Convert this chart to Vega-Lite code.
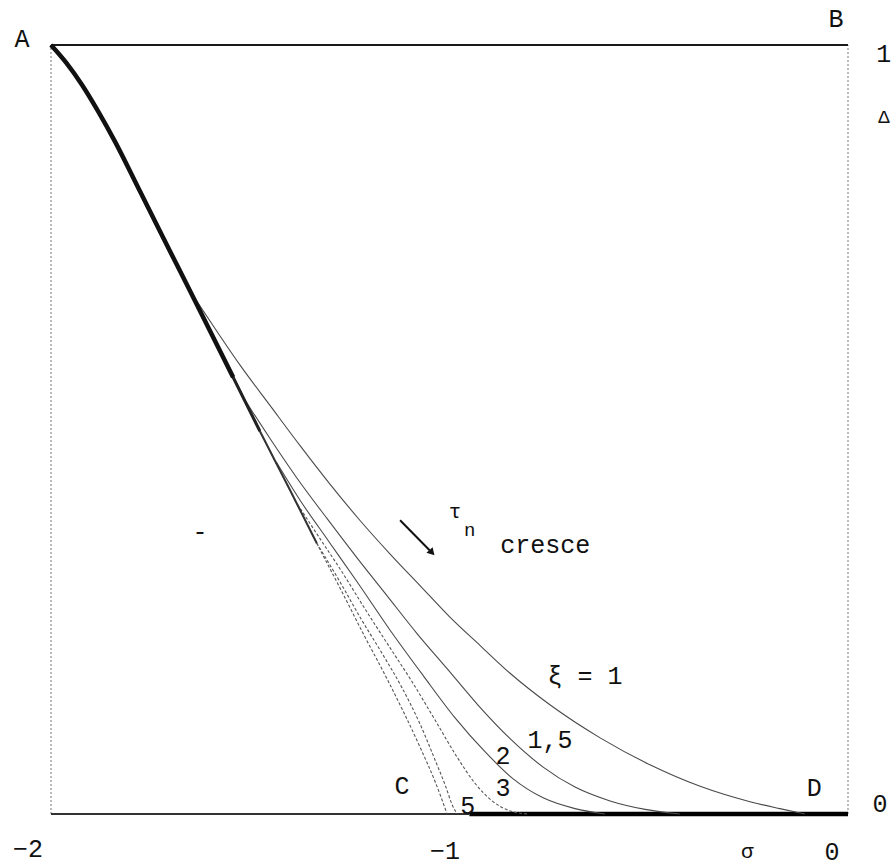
{
  "$schema": "https://vega.github.io/schema/vega-lite/v6.json",
  "width": 797,
  "height": 769,
  "autosize": "none",
  "padding": {"left": 51, "top": 45, "right": 48, "bottom": 54},
  "background": "white",
  "config": {"view": {"stroke": null}, "text": {"font": "Liberation Mono", "color": "#111"}},
  "datasets": {
    "curvas": [
      {"curva": "limite", "sigma": -2.000, "delta": 1.000},
      {"curva": "limite", "sigma": -1.962, "delta": 0.977},
      {"curva": "limite", "sigma": -1.922, "delta": 0.948},
      {"curva": "limite", "sigma": -1.882, "delta": 0.914},
      {"curva": "limite", "sigma": -1.839, "delta": 0.874},
      {"curva": "limite", "sigma": -1.777, "delta": 0.810},
      {"curva": "limite", "sigma": -1.719, "delta": 0.750},
      {"curva": "limite", "sigma": -1.651, "delta": 0.680},
      {"curva": "limite", "sigma": -1.543, "delta": 0.568},
      {"curva": "limite", "sigma": -1.476, "delta": 0.498},
      {"curva": "limite", "sigma": -1.400, "delta": 0.421},
      {"curva": "limite", "sigma": -1.333, "delta": 0.352},
      {"curva": "limite", "sigma": -1.267, "delta": 0.286},
      {"curva": "limite", "sigma": -1.217, "delta": 0.235},
      {"curva": "limite", "sigma": -1.154, "delta": 0.173},
      {"curva": "limite", "sigma": -1.074, "delta": 0.087},
      {"curva": "limite", "sigma": -1.036, "delta": 0.042},
      {"curva": "limite", "sigma": -1.006, "delta": 0.000},

      {"curva": "xi1", "sigma": -1.651, "delta": 0.680},
      {"curva": "xi1", "sigma": -1.588, "delta": 0.631},
      {"curva": "xi1", "sigma": -1.526, "delta": 0.584},
      {"curva": "xi1", "sigma": -1.450, "delta": 0.531},
      {"curva": "xi1", "sigma": -1.375, "delta": 0.479},
      {"curva": "xi1", "sigma": -1.300, "delta": 0.429},
      {"curva": "xi1", "sigma": -1.225, "delta": 0.382},
      {"curva": "xi1", "sigma": -1.149, "delta": 0.338},
      {"curva": "xi1", "sigma": -1.074, "delta": 0.297},
      {"curva": "xi1", "sigma": -0.999, "delta": 0.256},
      {"curva": "xi1", "sigma": -0.923, "delta": 0.219},
      {"curva": "xi1", "sigma": -0.848, "delta": 0.183},
      {"curva": "xi1", "sigma": -0.748, "delta": 0.142},
      {"curva": "xi1", "sigma": -0.622, "delta": 0.099},
      {"curva": "xi1", "sigma": -0.497, "delta": 0.064},
      {"curva": "xi1", "sigma": -0.371, "delta": 0.036},
      {"curva": "xi1", "sigma": -0.246, "delta": 0.016},
      {"curva": "xi1", "sigma": -0.171, "delta": 0.007},
      {"curva": "xi1", "sigma": -0.108, "delta": 0.000},

      {"curva": "xi1.5", "sigma": -1.513, "delta": 0.538},
      {"curva": "xi1.5", "sigma": -1.450, "delta": 0.488},
      {"curva": "xi1.5", "sigma": -1.383, "delta": 0.437},
      {"curva": "xi1.5", "sigma": -1.307, "delta": 0.384},
      {"curva": "xi1.5", "sigma": -1.232, "delta": 0.333},
      {"curva": "xi1.5", "sigma": -1.157, "delta": 0.284},
      {"curva": "xi1.5", "sigma": -1.082, "delta": 0.235},
      {"curva": "xi1.5", "sigma": -1.006, "delta": 0.189},
      {"curva": "xi1.5", "sigma": -0.929, "delta": 0.142},
      {"curva": "xi1.5", "sigma": -0.848, "delta": 0.098},
      {"curva": "xi1.5", "sigma": -0.765, "delta": 0.061},
      {"curva": "xi1.5", "sigma": -0.685, "delta": 0.035},
      {"curva": "xi1.5", "sigma": -0.597, "delta": 0.017},
      {"curva": "xi1.5", "sigma": -0.509, "delta": 0.006},
      {"curva": "xi1.5", "sigma": -0.422, "delta": 0.000},

      {"curva": "xi2", "sigma": -1.435, "delta": 0.458},
      {"curva": "xi2", "sigma": -1.375, "delta": 0.408},
      {"curva": "xi2", "sigma": -1.305, "delta": 0.356},
      {"curva": "xi2", "sigma": -1.232, "delta": 0.302},
      {"curva": "xi2", "sigma": -1.149, "delta": 0.239},
      {"curva": "xi2", "sigma": -1.066, "delta": 0.180},
      {"curva": "xi2", "sigma": -0.986, "delta": 0.125},
      {"curva": "xi2", "sigma": -0.911, "delta": 0.081},
      {"curva": "xi2", "sigma": -0.841, "delta": 0.046},
      {"curva": "xi2", "sigma": -0.765, "delta": 0.021},
      {"curva": "xi2", "sigma": -0.685, "delta": 0.007},
      {"curva": "xi2", "sigma": -0.610, "delta": 0.000},

      {"curva": "xi3", "sigma": -1.388, "delta": 0.408},
      {"curva": "xi3", "sigma": -1.330, "delta": 0.362},
      {"curva": "xi3", "sigma": -1.270, "delta": 0.315},
      {"curva": "xi3", "sigma": -1.210, "delta": 0.265},
      {"curva": "xi3", "sigma": -1.149, "delta": 0.216},
      {"curva": "xi3", "sigma": -1.094, "delta": 0.172},
      {"curva": "xi3", "sigma": -1.036, "delta": 0.122},
      {"curva": "xi3", "sigma": -0.981, "delta": 0.074},
      {"curva": "xi3", "sigma": -0.936, "delta": 0.040},
      {"curva": "xi3", "sigma": -0.893, "delta": 0.017},
      {"curva": "xi3", "sigma": -0.848, "delta": 0.004},
      {"curva": "xi3", "sigma": -0.803, "delta": 0.000},

      {"curva": "xi5", "sigma": -1.333, "delta": 0.352},
      {"curva": "xi5", "sigma": -1.275, "delta": 0.302},
      {"curva": "xi5", "sigma": -1.220, "delta": 0.252},
      {"curva": "xi5", "sigma": -1.167, "delta": 0.207},
      {"curva": "xi5", "sigma": -1.119, "delta": 0.164},
      {"curva": "xi5", "sigma": -1.074, "delta": 0.117},
      {"curva": "xi5", "sigma": -1.036, "delta": 0.070},
      {"curva": "xi5", "sigma": -1.009, "delta": 0.035},
      {"curva": "xi5", "sigma": -0.994, "delta": 0.013},
      {"curva": "xi5", "sigma": -0.981, "delta": 0.000}
    ],
    "rotulos": [
      {"tipo": "grande", "texto": "A", "sigma": -2.073, "delta": 1.008},
      {"tipo": "grande", "texto": "B", "sigma": -0.030, "delta": 1.034},
      {"tipo": "grande", "texto": "1", "sigma": 0.090, "delta": 0.988},
      {"tipo": "grande", "texto": "0", "sigma": 0.080, "delta": 0.013},
      {"tipo": "grande", "texto": "−2", "sigma": -2.058, "delta": -0.046},
      {"tipo": "grande", "texto": "−1", "sigma": -1.011, "delta": -0.048},
      {"tipo": "grande", "texto": "0", "sigma": -0.040, "delta": -0.049},
      {"tipo": "grande", "texto": "C", "sigma": -1.119, "delta": 0.036},
      {"tipo": "grande", "texto": "D", "sigma": -0.085, "delta": 0.034},
      {"tipo": "grande", "texto": "5", "sigma": -0.954, "delta": 0.010},
      {"tipo": "grande", "texto": "3", "sigma": -0.866, "delta": 0.034},
      {"tipo": "grande", "texto": "2", "sigma": -0.866, "delta": 0.075},
      {"tipo": "grande", "texto": "1,5", "sigma": -0.748, "delta": 0.096},
      {"tipo": "grande", "texto": "ξ = 1", "sigma": -0.660, "delta": 0.180},
      {"tipo": "grande", "texto": "cresce", "sigma": -0.760, "delta": 0.350},
      {"tipo": "grande", "texto": "-", "sigma": -1.626, "delta": 0.367},
      {"tipo": "medio", "texto": "σ", "sigma": -0.253, "delta": -0.050},
      {"tipo": "medio", "texto": "τ", "sigma": -0.986, "delta": 0.393},
      {"tipo": "pequeno", "texto": "Δ", "sigma": 0.090, "delta": 0.906},
      {"tipo": "pequeno", "texto": "n", "sigma": -0.949, "delta": 0.369}
    ]
  },
  "layer": [
    {
      "data": {"values": [{"sigma": -2, "delta": 0, "delta2": 1}, {"sigma": 0, "delta": 0, "delta2": 1}]},
      "mark": {"type": "rule", "stroke": "#777", "strokeWidth": 1, "strokeDash": [2, 2]},
      "encoding": {
        "x": {"field": "sigma", "type": "quantitative", "scale": {"domain": [-2, 0], "nice": false, "zero": false}, "axis": null},
        "y": {"field": "delta", "type": "quantitative", "scale": {"domain": [0, 1], "nice": false, "zero": false}, "axis": null},
        "y2": {"field": "delta2"}
      }
    },
    {
      "data": {"values": [{"sigma": -2, "sigma2": 0, "delta": 1}]},
      "mark": {"type": "rule", "stroke": "#1a1a1a", "strokeWidth": 2.2},
      "encoding": {
        "x": {"field": "sigma", "type": "quantitative", "scale": {"domain": [-2, 0], "nice": false, "zero": false}, "axis": null},
        "x2": {"field": "sigma2"},
        "y": {"field": "delta", "type": "quantitative", "scale": {"domain": [0, 1], "nice": false, "zero": false}, "axis": null}
      }
    },
    {
      "data": {"values": [{"sigma": -2, "sigma2": -0.95, "delta": 0}]},
      "mark": {"type": "rule", "stroke": "#333", "strokeWidth": 2},
      "encoding": {
        "x": {"field": "sigma", "type": "quantitative", "scale": {"domain": [-2, 0], "nice": false, "zero": false}, "axis": null},
        "x2": {"field": "sigma2"},
        "y": {"field": "delta", "type": "quantitative", "scale": {"domain": [0, 1], "nice": false, "zero": false}, "axis": null}
      }
    },
    {
      "data": {"values": [{"sigma": -0.95, "sigma2": 0, "delta": 0}]},
      "mark": {"type": "rule", "stroke": "#000", "strokeWidth": 4.5},
      "encoding": {
        "x": {"field": "sigma", "type": "quantitative", "scale": {"domain": [-2, 0], "nice": false, "zero": false}, "axis": null},
        "x2": {"field": "sigma2"},
        "y": {"field": "delta", "type": "quantitative", "scale": {"domain": [0, 1], "nice": false, "zero": false}, "axis": null}
      }
    },
    {
      "data": {"name": "curvas"},
      "transform": [{"filter": "datum.curva === 'xi1' || datum.curva === 'xi1.5' || datum.curva === 'xi2'"}],
      "mark": {"type": "line", "stroke": "#4a4a4a", "strokeWidth": 1.1, "interpolate": "monotone"},
      "encoding": {
        "x": {"field": "sigma", "type": "quantitative", "scale": {"domain": [-2, 0], "nice": false, "zero": false}, "axis": null},
        "y": {"field": "delta", "type": "quantitative", "scale": {"domain": [0, 1], "nice": false, "zero": false}, "axis": null},
        "detail": {"field": "curva", "type": "nominal"}
      }
    },
    {
      "data": {"name": "curvas"},
      "transform": [{"filter": "datum.curva === 'xi3' || datum.curva === 'xi5' || datum.curva === 'limite'"}],
      "mark": {"type": "line", "stroke": "#555", "strokeWidth": 1.1, "strokeDash": [3, 2], "interpolate": "monotone"},
      "encoding": {
        "x": {"field": "sigma", "type": "quantitative", "scale": {"domain": [-2, 0], "nice": false, "zero": false}, "axis": null},
        "y": {"field": "delta", "type": "quantitative", "scale": {"domain": [0, 1], "nice": false, "zero": false}, "axis": null},
        "detail": {"field": "curva", "type": "nominal"}
      }
    },
    {
      "data": {"name": "curvas"},
      "transform": [{"filter": "datum.curva === 'limite' && datum.delta >= 0.35"}],
      "mark": {"type": "line", "stroke": "#333", "strokeWidth": 2, "interpolate": "monotone"},
      "encoding": {
        "x": {"field": "sigma", "type": "quantitative", "scale": {"domain": [-2, 0], "nice": false, "zero": false}, "axis": null},
        "y": {"field": "delta", "type": "quantitative", "scale": {"domain": [0, 1], "nice": false, "zero": false}, "axis": null}
      }
    },
    {
      "data": {"name": "curvas"},
      "transform": [{"filter": "datum.curva === 'limite' && datum.delta >= 0.49"}],
      "mark": {"type": "line", "stroke": "#222", "strokeWidth": 3, "interpolate": "monotone"},
      "encoding": {
        "x": {"field": "sigma", "type": "quantitative", "scale": {"domain": [-2, 0], "nice": false, "zero": false}, "axis": null},
        "y": {"field": "delta", "type": "quantitative", "scale": {"domain": [0, 1], "nice": false, "zero": false}, "axis": null}
      }
    },
    {
      "data": {"name": "curvas"},
      "transform": [{"filter": "datum.curva === 'limite' && datum.delta >= 0.56"}],
      "mark": {"type": "line", "stroke": "#111", "strokeWidth": 4.5, "interpolate": "monotone"},
      "encoding": {
        "x": {"field": "sigma", "type": "quantitative", "scale": {"domain": [-2, 0], "nice": false, "zero": false}, "axis": null},
        "y": {"field": "delta", "type": "quantitative", "scale": {"domain": [0, 1], "nice": false, "zero": false}, "axis": null}
      }
    },
    {
      "data": {"values": [{"sigma": -1.124, "delta": 0.382, "sigma2": -1.050, "delta2": 0.343}]},
      "mark": {"type": "rule", "stroke": "#111", "strokeWidth": 2},
      "encoding": {
        "x": {"field": "sigma", "type": "quantitative", "scale": {"domain": [-2, 0], "nice": false, "zero": false}, "axis": null},
        "y": {"field": "delta", "type": "quantitative", "scale": {"domain": [0, 1], "nice": false, "zero": false}, "axis": null},
        "x2": {"field": "sigma2"},
        "y2": {"field": "delta2"}
      }
    },
    {
      "data": {"values": [{"sigma": -1.046, "delta": 0.341}]},
      "mark": {"type": "point", "shape": "triangle", "filled": true, "color": "#111", "size": 70, "angle": 137, "opacity": 1},
      "encoding": {
        "x": {"field": "sigma", "type": "quantitative", "scale": {"domain": [-2, 0], "nice": false, "zero": false}, "axis": null},
        "y": {"field": "delta", "type": "quantitative", "scale": {"domain": [0, 1], "nice": false, "zero": false}, "axis": null}
      }
    },
    {
      "data": {"name": "rotulos"},
      "transform": [{"filter": "datum.tipo === 'grande'"}],
      "mark": {"type": "text", "fontSize": 25, "align": "center", "baseline": "middle"},
      "encoding": {
        "x": {"field": "sigma", "type": "quantitative", "scale": {"domain": [-2, 0], "nice": false, "zero": false}, "axis": null},
        "y": {"field": "delta", "type": "quantitative", "scale": {"domain": [0, 1], "nice": false, "zero": false}, "axis": null},
        "text": {"field": "texto"}
      }
    },
    {
      "data": {"name": "rotulos"},
      "transform": [{"filter": "datum.tipo === 'medio'"}],
      "mark": {"type": "text", "fontSize": 21, "align": "center", "baseline": "middle"},
      "encoding": {
        "x": {"field": "sigma", "type": "quantitative", "scale": {"domain": [-2, 0], "nice": false, "zero": false}, "axis": null},
        "y": {"field": "delta", "type": "quantitative", "scale": {"domain": [0, 1], "nice": false, "zero": false}, "axis": null},
        "text": {"field": "texto"}
      }
    },
    {
      "data": {"name": "rotulos"},
      "transform": [{"filter": "datum.tipo === 'pequeno'"}],
      "mark": {"type": "text", "fontSize": 19, "align": "center", "baseline": "middle"},
      "encoding": {
        "x": {"field": "sigma", "type": "quantitative", "scale": {"domain": [-2, 0], "nice": false, "zero": false}, "axis": null},
        "y": {"field": "delta", "type": "quantitative", "scale": {"domain": [0, 1], "nice": false, "zero": false}, "axis": null},
        "text": {"field": "texto"}
      }
    }
  ]
}
